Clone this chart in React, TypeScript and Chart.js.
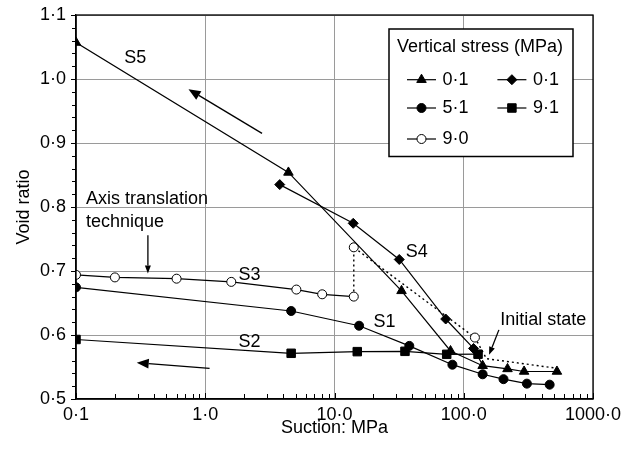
import React, { useEffect, useRef } from 'react';
import { Chart, registerables } from 'chart.js';

Chart.register(...registerables);

const FONT = '"Liberation Sans", Arial, Helvetica, sans-serif';
const FS = 18;

// ---- data (suction MPa, void ratio) ----
const s5Suction = [0.1, 4.4, 33, 79, 140, 218, 293, 526];
const s5Void = [1.057, 0.854, 0.669, 0.575, 0.552, 0.547, 0.543, 0.543];

const s4Suction = [3.77, 13.96, 31.7, 72.5, 119, 140];
const s4Void = [0.835, 0.7745, 0.718, 0.625, 0.579, 0.553];

const s1Suction = [0.1, 4.62, 15.5, 37.9, 81.7, 140, 203, 308, 462];
const s1Void = [0.6745, 0.6375, 0.6145, 0.583, 0.5536, 0.5386, 0.531, 0.524, 0.5224];

const s2Suction = [0.1, 4.62, 15.0, 35.1, 73.8, 129];
const s2Void = [0.593, 0.5714, 0.574, 0.5745, 0.5698, 0.57];

const s3Suction = [0.1, 0.2, 0.6, 1.59, 5.07, 8.03, 14.1];
const s3Void = [0.694, 0.69, 0.688, 0.683, 0.671, 0.6636, 0.66];

const s3WetSuction = [14.1, 14.1, 122, 150, 526];
const s3WetVoid = [0.66, 0.737, 0.596, 0.563, 0.548];

const stressLabels = ['0·1', '0·1', '5·1', '9·1', '9·0'];
const legendTitle = 'Vertical stress (MPa)';

const xTickValues = [0.1, 1, 10, 100, 1000];
const xTickLabels = ['0·1', '1·0', '10·0', '100·0', '1000·0'];
const yTickValues = [0.5, 0.6, 0.7, 0.8, 0.9, 1.0, 1.1];
const yTickLabels = ['0·5', '0·6', '0·7', '0·8', '0·9', '1·0', '1·1'];

// text annotations in data coordinates: [x, y, text, align]
const textNotes: [number, number, string, CanvasTextAlign][] = [
  [0.287, 1.033, 'S5', 'center'],
  [43.2, 0.73, 'S4', 'center'],
  [2.2, 0.694, 'S3', 'center'],
  [2.2, 0.5886, 'S2', 'center'],
  [24.4, 0.621, 'S1', 'center'],
  [412, 0.623, 'Initial state', 'center'],
  [0.1196, 0.8125, 'Axis translation', 'left'],
  [0.1196, 0.777, 'technique', 'left'],
];

// arrows in data coordinates: [x0, y0, x1 (head), y1 (head), headLen, headHalfWidth]
const arrowNotes: [number, number, number, number, number, number][] = [
  [2.75, 0.915, 0.742, 0.984, 12, 5],
  [1.08, 0.548, 0.295, 0.5567, 12, 5],
  [0.36, 0.756, 0.36, 0.696, 8, 3],
  [187, 0.608, 157, 0.569, 8, 3],
];

const pts = (xs: number[], ys: number[]) => xs.map((x, i) => ({ x, y: ys[i] }));

function drawMarker(ctx: CanvasRenderingContext2D, style: string, x: number, y: number, r: number, fill: string) {
  ctx.save();
  ctx.beginPath();
  if (style === 'triangle') {
    ctx.moveTo(x, y - r);
    ctx.lineTo(x + r * 0.866, y + r * 0.5);
    ctx.lineTo(x - r * 0.866, y + r * 0.5);
    ctx.closePath();
  } else if (style === 'rectRot') {
    ctx.moveTo(x, y - r);
    ctx.lineTo(x + r, y);
    ctx.lineTo(x, y + r);
    ctx.lineTo(x - r, y);
    ctx.closePath();
  } else if (style === 'rect') {
    const s = r * Math.SQRT1_2;
    ctx.rect(x - s, y - s, 2 * s, 2 * s);
  } else {
    ctx.arc(x, y, r, 0, Math.PI * 2);
  }
  ctx.fillStyle = fill;
  ctx.fill();
  ctx.strokeStyle = '#000';
  ctx.lineWidth = 1;
  ctx.stroke();
  ctx.restore();
}

const legendItems = [
  { style: 'triangle', r: 5.5, fill: '#000', row: 0, col: 0 },
  { style: 'rectRot', r: 5, fill: '#000', row: 0, col: 1 },
  { style: 'circle', r: 4.5, fill: '#000', row: 1, col: 0 },
  { style: 'rect', r: 6, fill: '#000', row: 1, col: 1 },
  { style: 'circle', r: 4.5, fill: '#fff', row: 2, col: 0 },
];

const decorPlugin = {
  id: 'decor',
  afterDatasetsDraw(chart: any) {
    const { ctx, chartArea: ca, scales } = chart;
    const xs = scales.x;
    const ys = scales.y;
    ctx.save();
    ctx.strokeStyle = '#000';
    ctx.lineWidth = 1;
    // minor ticks on x (inward)
    for (let d = 0.1; d < 999; d *= 10) {
      for (let k = 1; k <= 10; k++) {
        const px = Math.round(xs.getPixelForValue(k * d)) + 0.5;
        const len = k === 1 || k === 10 ? 6 : 5;
        ctx.beginPath();
        ctx.moveTo(px, ca.bottom);
        ctx.lineTo(px, ca.bottom - len);
        ctx.stroke();
      }
    }
    // minor ticks on y (outward)
    for (let i = 0; i <= 30; i++) {
      const v = 0.5 + i * 0.02;
      const py = Math.round(ys.getPixelForValue(v)) + 0.5;
      ctx.beginPath();
      ctx.moveTo(ca.left, py);
      ctx.lineTo(ca.left - (i % 5 === 0 ? 5 : 4), py);
      ctx.stroke();
    }
    // frame
    ctx.lineWidth = 1.3;
    ctx.strokeRect(ca.left, ca.top, ca.right - ca.left, ca.bottom - ca.top);

    // arrows
    for (const [x0, y0, x1, y1, hl, hw] of arrowNotes) {
      const ax = xs.getPixelForValue(x0), ay = ys.getPixelForValue(y0);
      const bx = xs.getPixelForValue(x1), by = ys.getPixelForValue(y1);
      const ang = Math.atan2(by - ay, bx - ax);
      const cx = bx - hl * Math.cos(ang), cy = by - hl * Math.sin(ang);
      ctx.lineWidth = 1.3;
      ctx.beginPath();
      ctx.moveTo(ax, ay);
      ctx.lineTo(cx, cy);
      ctx.stroke();
      ctx.beginPath();
      ctx.moveTo(bx, by);
      ctx.lineTo(cx + hw * Math.sin(ang), cy - hw * Math.cos(ang));
      ctx.lineTo(cx - hw * Math.sin(ang), cy + hw * Math.cos(ang));
      ctx.closePath();
      ctx.fillStyle = '#000';
      ctx.fill();
    }

    // text notes
    ctx.font = `${FS}px ${FONT}`;
    ctx.fillStyle = '#000';
    ctx.textBaseline = 'middle';
    for (const [x, y, t, al] of textNotes) {
      ctx.textAlign = al;
      ctx.fillText(t, xs.getPixelForValue(x), ys.getPixelForValue(y));
    }
    ctx.restore();
  },
  afterDraw(chart: any) {
    const { ctx, chartArea: ca } = chart;
    const L = ca.right - 204;
    const T = ca.top + 14;
    const W = 184;
    const H = 127.5;
    ctx.save();
    ctx.fillStyle = '#fff';
    ctx.fillRect(L, T, W, H);
    ctx.strokeStyle = '#000';
    ctx.lineWidth = 1.5;
    ctx.strokeRect(L, T, W, H);
    ctx.font = `${FS}px ${FONT}`;
    ctx.fillStyle = '#000';
    ctx.textBaseline = 'middle';
    ctx.textAlign = 'center';
    ctx.fillText(legendTitle, L + 91, T + 18.5);
    const rowY = [50.7, 79, 110];
    const colX = [18, 108.4];
    ctx.textAlign = 'left';
    legendItems.forEach((it, i) => {
      const y = T + rowY[it.row];
      const x0 = L + colX[it.col];
      ctx.lineWidth = 1.2;
      ctx.beginPath();
      ctx.moveTo(x0, y);
      ctx.lineTo(x0 + 29, y);
      ctx.stroke();
      drawMarker(ctx, it.style, x0 + 14.5, y, it.r, it.fill);
      ctx.fillStyle = '#000';
      ctx.fillText(stressLabels[i], x0 + 35.5, y + 0.5);
    });
    ctx.restore();
  },
};

export default function App() {
  const ref = useRef<HTMLCanvasElement>(null);
  useEffect(() => {
    document.body.style.margin = '0';
    const base = {
      borderColor: '#000',
      borderWidth: 1.2,
      pointBorderColor: '#000',
      pointBorderWidth: 1,
      fill: false,
      tension: 0,
    };
    const chart = new Chart(ref.current as HTMLCanvasElement, {
      type: 'line',
      data: {
        datasets: [
          { ...base, label: stressLabels[0], data: pts(s5Suction, s5Void), pointStyle: 'triangle', pointRadius: 5.5, pointBackgroundColor: '#000' },
          { ...base, label: stressLabels[2], data: pts(s1Suction, s1Void), pointStyle: 'circle', pointRadius: 4.5, pointBackgroundColor: '#000' },
          { ...base, label: stressLabels[3], data: pts(s2Suction, s2Void), pointStyle: 'rect', pointRadius: 6, pointBackgroundColor: '#000' },
          { ...base, label: stressLabels[1], data: pts(s4Suction, s4Void), pointStyle: 'rectRot', pointRadius: s4Suction.map((_, i) => (i === s4Suction.length - 1 ? 0 : 5)), pointBackgroundColor: '#000' },
          { ...base, label: stressLabels[4], data: pts(s3Suction, s3Void), pointStyle: 'circle', pointRadius: 4.5, pointBackgroundColor: '#fff' },
          { ...base, label: stressLabels[4] + ' wetting', data: pts(s3WetSuction, s3WetVoid), borderDash: [2, 3], borderWidth: 1.4, pointStyle: 'circle', pointRadius: [0, 4.5, 4.5, 0, 0], pointBackgroundColor: '#fff' },
        ] as any,
      },
      options: {
        animation: false,
        responsive: true,
        maintainAspectRatio: false,
        layout: { padding: { left: 0, top: 15, right: 44, bottom: 0 } },
        plugins: { legend: { display: false }, tooltip: { enabled: false } },
        scales: {
          x: {
            type: 'logarithmic',
            min: 0.1,
            max: 1000,
            afterBuildTicks: (s: any) => {
              s.ticks = xTickValues.map((v) => ({ value: v }));
            },
            afterFit: (s: any) => {
              s.height = 51;
              s.paddingLeft = 0;
              s.paddingRight = 0;
            },
            ticks: {
              callback: (_v: any, i: number) => xTickLabels[i],
              font: { family: FONT, size: FS },
              color: '#000',
              padding: 5,
              maxRotation: 0,
              autoSkip: false,
            },
            grid: { color: '#9a9a9a', lineWidth: 1, drawTicks: false },
            border: { color: '#000', width: 1.3 },
            title: { display: true, text: 'Suction: MPa', font: { family: FONT, size: FS }, color: '#000', padding: { top: 0, bottom: 11 } },
          },
          y: {
            type: 'linear',
            min: 0.5,
            max: 1.1,
            afterBuildTicks: (s: any) => {
              s.ticks = yTickValues.map((v) => ({ value: v }));
            },
            afterFit: (s: any) => {
              s.width = 76;
              s.paddingTop = 0;
              s.paddingBottom = 0;
            },
            ticks: {
              callback: (_v: any, i: number) => yTickLabels[i],
              font: { family: FONT, size: FS },
              color: '#000',
              padding: 10,
            },
            grid: { color: '#9a9a9a', lineWidth: 1, drawTicks: false },
            border: { color: '#000', width: 1.3 },
            title: { display: true, text: 'Void ratio', font: { family: FONT, size: FS }, color: '#000', padding: { top: 13, bottom: 0 } },
          },
        },
      } as any,
      plugins: [decorPlugin],
    });
    return () => chart.destroy();
  }, []);
  return (
    <div style={{ width: 637, height: 450, position: 'relative' }}>
      <canvas ref={ref} />
    </div>
  );
}
